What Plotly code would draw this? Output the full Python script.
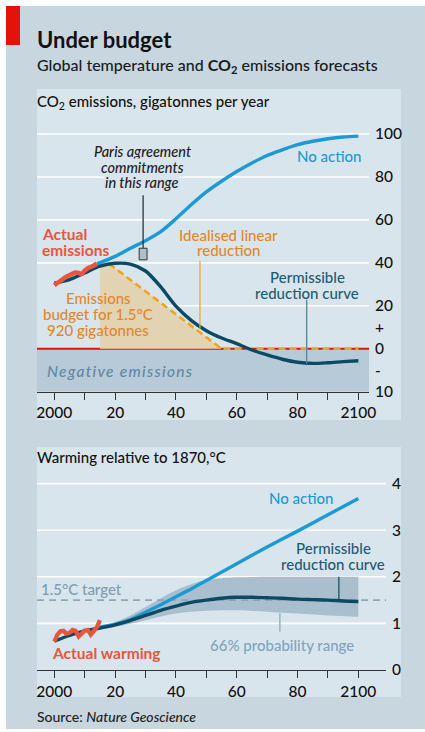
import plotly.graph_objects as go

W, H = 425, 732

# ---------------- data: CO2 emissions, gigatonnes per year ----------------
em_actual_years = list(range(2000, 2015))
em_actual = [29.5, 30.6, 31.6, 32.6, 33.6, 34.3, 35.0, 35.5, 35.3, 34.8, 36.4, 37.5, 38.1, 38.8, 39.6]

em_noaction_years = [2014, 2020, 2025, 2030, 2035, 2040, 2045, 2050, 2055, 2060,
                     2065, 2070, 2075, 2080, 2085, 2090, 2095, 2100]
em_noaction = [39.5, 43.0, 46.8, 50.3, 54.5, 60.5, 67.0, 73.0, 78.0, 82.5,
               86.5, 90.0, 92.6, 95.0, 96.6, 97.8, 98.6, 99.0]

em_permis_years = list(range(2000, 2101, 5))
em_permis = [30.5, 32.2, 35.3, 38.5, 39.8, 39.4, 36.2, 28.8, 19.8, 13.2, 8.4,
             5.0, 2.4, -0.3, -1.45, -2.45, -3.15, -3.4, -3.25, -3.0, -2.8]

em_linear_years = [2018, 2055, 2100]
em_linear = [39.6, 0, 0]

budget_years = [2015, 2015, 2018, 2055]
budget_vals = [0, 38.8, 39.6, 0]

paris_year = 2029.2
paris_range = [41.4, 46.8]

em_ticks = [-10, -5, 0, 10, 20, 40, 60, 80, 100]
em_ticktext = ["10", "-", "0", "+", "20", "40", "60", "80", "100"]
em_grid = [20, 40, 60, 80, 100]
em_grid_start = [2015, None, None, None, None]   # the 20 line is hidden behind the budget label

# ---------------- data: warming relative to 1870, C ----------------
warm_actual_years = list(range(2000, 2016))
warm_actual = [0.61, 0.76, 0.83, 0.84, 0.78, 0.80, 0.86, 0.84, 0.72, 0.80,
               0.85, 0.86, 0.76, 0.84, 0.92, 1.07]

warm_noaction_years = [2015, 2020, 2025, 2030, 2035, 2040, 2045, 2050, 2060, 2070, 2080, 2090, 2100]
warm_noaction = [0.92, 0.98, 1.08, 1.24, 1.40, 1.57, 1.74, 1.92, 2.28, 2.64, 2.98, 3.33, 3.68]

warm_permis_years = list(range(2000, 2101, 5))
warm_permis = [0.62, 0.74, 0.84, 0.90, 0.97, 1.06, 1.17, 1.28, 1.37, 1.45, 1.50,
               1.54, 1.56, 1.56, 1.55, 1.54, 1.52, 1.51, 1.50, 1.48, 1.47]

band_years = [2005, 2010, 2015, 2020, 2025, 2030, 2035, 2040, 2045, 2050, 2055, 2060, 2070, 2080, 2090, 2100]
band_upper = [0.76, 0.86, 0.94, 1.03, 1.17, 1.35, 1.54, 1.71, 1.84, 1.93, 1.97, 1.99, 2.0, 2.0, 2.0, 2.0]
band_lower = [0.72, 0.81, 0.87, 0.92, 0.99, 1.07, 1.15, 1.21, 1.25, 1.27, 1.28, 1.28, 1.25, 1.21, 1.17, 1.14]

target = 1.5
warm_ticks = [0, 1, 2, 3, 4]
warm_grid = [1, 2, 3, 4]

year_ticks = list(range(2000, 2101, 10))
year_ticktext = ["2000", "", "20", "", "40", "", "60", "", "80", "", "2100"]

# ---------------- styling ----------------
FONT = "Lato"
WEIGHT = 500
BG = "#c8d6e0"
PANEL = "#d9e5ec"
NEG = "#b7cad7"
BLUE = "#1b9ad6"
DARK = "#0c4a63"
RED = "#e8553d"
ORANGE = "#f0a41c"
ORANGE_TXT = "#e2872c"
TAN = "#e2d4b3"
BAND = "#a9bfcd"

X1_RANGE = [1994.3, 2103.5]
X2_RANGE = [1994.3, 2109.1]


def em_axis(v):
    # the chart doubles the scale below zero (negative emissions)
    return v if v >= 0 else 2 * v


def X(px):
    return px / W


def Y(py):
    return 1 - py / H


fig = go.Figure()

# ---- top chart traces ----
fig.add_trace(go.Scatter(x=budget_years, y=[em_axis(v) for v in budget_vals], fill="toself",
                         fillcolor=TAN, line=dict(width=0), mode="lines", xaxis="x", yaxis="y"))
fig.add_trace(go.Scatter(x=em_linear_years, y=[em_axis(v) for v in em_linear], mode="lines",
                         line=dict(color=ORANGE, width=2.6, dash="7px,4px"), xaxis="x", yaxis="y"))
fig.add_trace(go.Scatter(x=em_noaction_years, y=[em_axis(v) for v in em_noaction], mode="lines",
                         line=dict(color=BLUE, width=3.4, shape="spline", smoothing=0.8), xaxis="x", yaxis="y"))
fig.add_trace(go.Scatter(x=em_permis_years, y=[em_axis(v) for v in em_permis], mode="lines",
                         line=dict(color=DARK, width=3.4, shape="spline", smoothing=0.8), xaxis="x", yaxis="y"))
fig.add_trace(go.Scatter(x=em_actual_years, y=[em_axis(v) for v in em_actual], mode="lines",
                         line=dict(color=RED, width=4.5, shape="spline", smoothing=0.6), xaxis="x", yaxis="y"))

# ---- bottom chart traces ----
fig.add_trace(go.Scatter(x=band_years, y=band_upper, mode="lines", line=dict(width=0, shape="spline"),
                         xaxis="x2", yaxis="y2"))
fig.add_trace(go.Scatter(x=band_years, y=band_lower, mode="lines", line=dict(width=0, shape="spline"),
                         fill="tonexty", fillcolor=BAND, xaxis="x2", yaxis="y2"))
fig.add_trace(go.Scatter(x=X2_RANGE, y=[target, target], mode="lines",
                         line=dict(color="#8ea8ba", width=1.6, dash="7px,5px"), xaxis="x2", yaxis="y2"))
fig.add_trace(go.Scatter(x=warm_noaction_years, y=warm_noaction, mode="lines",
                         line=dict(color=BLUE, width=3.4, shape="spline", smoothing=0.6), xaxis="x2", yaxis="y2"))
fig.add_trace(go.Scatter(x=warm_permis_years, y=warm_permis, mode="lines",
                         line=dict(color=DARK, width=3.4, shape="spline", smoothing=0.8), xaxis="x2", yaxis="y2"))
fig.add_trace(go.Scatter(x=warm_actual_years, y=warm_actual, mode="lines",
                         line=dict(color=RED, width=4.2), xaxis="x2", yaxis="y2"))

# ---------------- shapes ----------------
shapes = []
# backgrounds
shapes.append(dict(type="rect", xref="paper", yref="paper", x0=X(6), x1=1, y0=Y(729), y1=Y(6),
                   fillcolor=BG, line=dict(width=0), layer="below"))
shapes.append(dict(type="rect", xref="paper", yref="paper", x0=X(6), x1=X(20), y0=Y(45), y1=Y(6),
                   fillcolor="#e3120b", line=dict(width=0), layer="below"))
shapes.append(dict(type="rect", xref="paper", yref="paper", x0=X(37), x1=X(401), y0=Y(420), y1=Y(89),
                   fillcolor=PANEL, line=dict(width=0), layer="below"))
shapes.append(dict(type="rect", xref="paper", yref="paper", x0=X(37), x1=X(401), y0=Y(697), y1=Y(447),
                   fillcolor=PANEL, line=dict(width=0), layer="below"))
# negative emissions region
shapes.append(dict(type="rect", xref="x", yref="y", x0=X1_RANGE[0], x1=X1_RANGE[1], y0=em_axis(-10), y1=0,
                   fillcolor=NEG, line=dict(width=0), layer="below"))
for g, s in zip(em_grid, em_grid_start):
    shapes.append(dict(type="line", xref="x", yref="y", x0=s if s else X1_RANGE[0], x1=X1_RANGE[1],
                       y0=g, y1=g, line=dict(color="white", width=1.6), layer="below"))
shapes.append(dict(type="line", xref="x", yref="y", x0=X1_RANGE[0], x1=X1_RANGE[1], y0=0, y1=0,
                   line=dict(color="#e3120b", width=2), layer="below"))
for g in warm_grid:
    shapes.append(dict(type="line", xref="x2", yref="y2", x0=X2_RANGE[0], x1=X2_RANGE[1], y0=g, y1=g,
                       line=dict(color="white", width=1.6), layer="below"))
# pointers
shapes.append(dict(type="line", xref="x", yref="y", x0=paris_year, x1=paris_year, y0=paris_range[1], y1=71.5,
                   line=dict(color="#333333", width=1.3), layer="above"))
shapes.append(dict(type="rect", xref="x", yref="y", x0=paris_year - 1.3, x1=paris_year + 1.3,
                   y0=paris_range[0], y1=paris_range[1], fillcolor="#aebfcc",
                   line=dict(color="#333333", width=1), layer="above"))
shapes.append(dict(type="line", xref="x", yref="y", x0=2047.9, x1=2047.9, y0=9.3, y1=41,
                   line=dict(color=ORANGE, width=1.2), layer="above"))
shapes.append(dict(type="line", xref="x", yref="y", x0=2083, x1=2083, y0=em_axis(-3.35), y1=22.8,
                   line=dict(color="#5a8aa0", width=1.4), layer="above"))
shapes.append(dict(type="line", xref="x2", yref="y2", x0=2093.6, x1=2093.6, y0=1.5, y1=2.0,
                   line=dict(color=DARK, width=1.2), layer="above"))
shapes.append(dict(type="line", xref="x2", yref="y2", x0=2074.2, x1=2074.2, y0=0.82, y1=1.22,
                   line=dict(color="#8fb0c4", width=1.4), layer="above"))

# ---------------- annotations ----------------
anns = []


def ann(text, px, py, size=15, color="#111111", anchor="left", bg=None, weight=WEIGHT):
    d = dict(text=text, x=X(px), y=Y(py), xref="paper", yref="paper", xanchor=anchor,
             yanchor="middle", showarrow=False,
             font=dict(family=FONT, size=size, color=color, weight=weight),
             borderpad=0)
    if bg:
        d["bgcolor"] = bg
    anns.append(d)


ann("<b>Under budget</b>", 36, 39, size=22)
ann("Global temperature and <b>CO<sub>2</sub></b> emissions forecasts", 36, 66, size=16, color="#1a1a1a")
ann("CO<sub>2</sub> emissions, gigatonnes per year", 36, 102, size=15)
ann("Warming relative to 1870,°C", 36, 457, size=15)
ann("Source: <i>Nature Geoscience</i>", 36, 716, size=14, color="#222222")

# top chart labels
for txt, py in [("Paris agreement", 151.7), ("commitments", 167.3), ("in this range", 182.7)]:
    ann("<i>" + txt + "</i>", 142, py, size=14.5, color="#222222", anchor="center", bg=PANEL)
ann("<b>Actual</b>", 41, 234.3, size=15.5, color=RED)
ann("<b>emissions</b>", 41, 250, size=15.5, color=RED)
ann("Idealised linear", 228, 235, color=ORANGE_TXT, anchor="center")
ann("reduction", 228, 250, color=ORANGE_TXT, anchor="center")
ann("No action", 363, 155.7, size=15, color=BLUE, anchor="right")
ann("Permissible", 307, 276.7, size=15, color="#1e5a73", anchor="center")
ann("reduction curve", 307, 292.7, size=15, color="#1e5a73", anchor="center")
ann("Emissions", 98, 298.3, color=ORANGE_TXT, anchor="center")
ann("budget for 1.5°C", 98, 314, color=ORANGE_TXT, anchor="center")
ann("920 gigatonnes", 98, 329.5, color=ORANGE_TXT, anchor="center")
ann("<i>Negative emissions</i>", 46, 371, size=15.5, color="#5f88a3")

# bottom chart labels
ann("No action", 335, 498, size=15, color=BLUE, anchor="right")
ann("Permissible", 333, 548, size=15, color="#1e5a73", anchor="center")
ann("reduction curve", 333, 564, size=15, color="#1e5a73", anchor="center")
ann("1.5°C target", 40, 589, size=15, color="#7e9cb1")
ann("66% probability range", 209, 645, size=15, color="#7fa4bc")
ann("<b>Actual warming</b>", 51, 652.7, size=15.5, color=RED)

# ---------------- axes ----------------
tickfont = dict(family=FONT, size=15.5, color="#111111", weight=WEIGHT)
xcommon = dict(tickmode="array", tickvals=year_ticks, ticktext=year_ticktext, ticks="outside",
               ticklen=7, tickwidth=1.2, tickcolor="#333333", showline=True, linecolor="#333333",
               linewidth=1.3, showgrid=False, zeroline=False, automargin=False, tickfont=tickfont)
ycommon = dict(side="right", ticks="", showgrid=False, zeroline=False, showline=False, automargin=False,
               tickfont=tickfont, ticklabelstandoff=5)

fig.update_layout(
    width=W, height=H, margin=dict(l=0, r=0, t=0, b=0, pad=0, autoexpand=False),
    paper_bgcolor="white", plot_bgcolor="rgba(0,0,0,0)",
    showlegend=False, hovermode=False,
    xaxis=dict(domain=[X(37), X(369)], range=X1_RANGE, anchor="y", **xcommon),
    yaxis=dict(domain=[Y(391.7), Y(112.5)], range=[em_axis(-10), 110], anchor="x",
               tickmode="array", tickvals=[em_axis(v) for v in em_ticks], ticktext=em_ticktext, **ycommon),
    xaxis2=dict(domain=[X(37), X(386)], range=X2_RANGE, anchor="y2", **xcommon),
    yaxis2=dict(domain=[Y(670), Y(469.6)], range=[0, 4.3], anchor="x2",
                tickmode="array", tickvals=warm_ticks, ticktext=[str(v) for v in warm_ticks], **ycommon),
    shapes=shapes, annotations=anns,
)

post = """
document.body.style.margin='0';
document.body.style.overflow='hidden';
document.querySelectorAll('text.annotation-text').forEach(function(t){
  if (t.textContent === 'Negative emissions') {
    var w0 = t.getComputedTextLength();
    t.style.letterSpacing = '1.3px';
    var w1 = t.getComputedTextLength();
    var a = t.getAttribute('text-anchor');
    if (a === 'middle') {
      var x = parseFloat(t.getAttribute('x')) || 0;
      t.setAttribute('x', x + (w1 - w0) / 2);
    }
  }
});
"""

fig.write_html("out.html", config=dict(displayModeBar=False), post_script=post)
